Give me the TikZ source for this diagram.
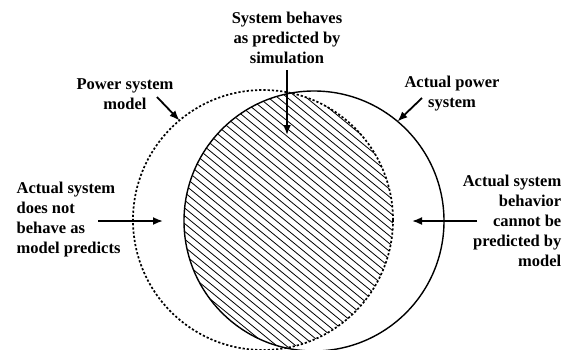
\documentclass[tikz,border=0pt]{standalone}
\usepackage{fontspec}
\setmainfont{Liberation Serif}
\usetikzlibrary{positioning,arrows.meta}

\begin{document}
\begin{tikzpicture}[x=1pt, y=-1pt, >={Latex[length=10pt,width=8pt]}, line width=1.4pt]
        \tikzset{
            txt/.style={font=\bfseries\fontsize{16.5}{20}\selectfont, inner sep=0pt},
            ring/.style={draw, circle, minimum size=260pt, inner sep=0pt, outer sep=0pt},
            pointer/.style={->, line width=1.8pt},
            hatch/.style={line width=0.8pt},
        }
        \useasboundingbox (0,0) rectangle (568,349);

        % Hatched overlap of model and real system
        \begin{scope}
            \clip (263,220) circle[radius=130pt];
            \clip (314,221) circle[radius=130pt];
            \foreach \x in {-300,-290.5,...,460}
                \draw[hatch] (\x,60) -- ++(360,295);
        \end{scope}

        % Define the two circles
        \node[ring, line width=1.7pt, dash pattern=on 2.2pt off 2pt] (model) at (263,220) {};
        \node[ring] (actual) at (314,221) {};

        % Labels
        \node[txt, align=center] (pred) at (287,38) {System behaves\\as predicted by\\simulation};
        \node[txt, align=center] (pmodel) at (125,94) {Power system\\model};
        \node[txt, align=center] (preal) at (452,94) {Actual power\\system};
        \node[txt, align=left, anchor=west] (miss) at (16,220) {Actual system\\does not\\behave as\\model predicts};
        \node[txt, align=right, anchor=east] (unpred) at (562,221) {Actual system\\behavior\\cannot be\\predicted by\\model};

        % Arrow tails
        \coordinate (predtail) at (287,70);
        \coordinate (predtip) at (287,135);
        \coordinate (pmodeltail) at (157,97);
        \coordinate (prealtail) at (422,98);
        \coordinate (misstail) at (98,221);
        \coordinate (misstip) at (163,221);
        \coordinate (unpredtail) at (477,221);
        \coordinate (unpredtip) at (412,221);

        % Arrows
        \draw[pointer] (predtail) -- (predtip);
        \draw[pointer] (pmodeltail) -- (model.130);
        \draw[pointer] (prealtail) -- (actual.50);
        \draw[pointer] (misstail) -- (misstip);
        \draw[pointer] (unpredtail) -- (unpredtip);
    \end{tikzpicture}
\end{document}
